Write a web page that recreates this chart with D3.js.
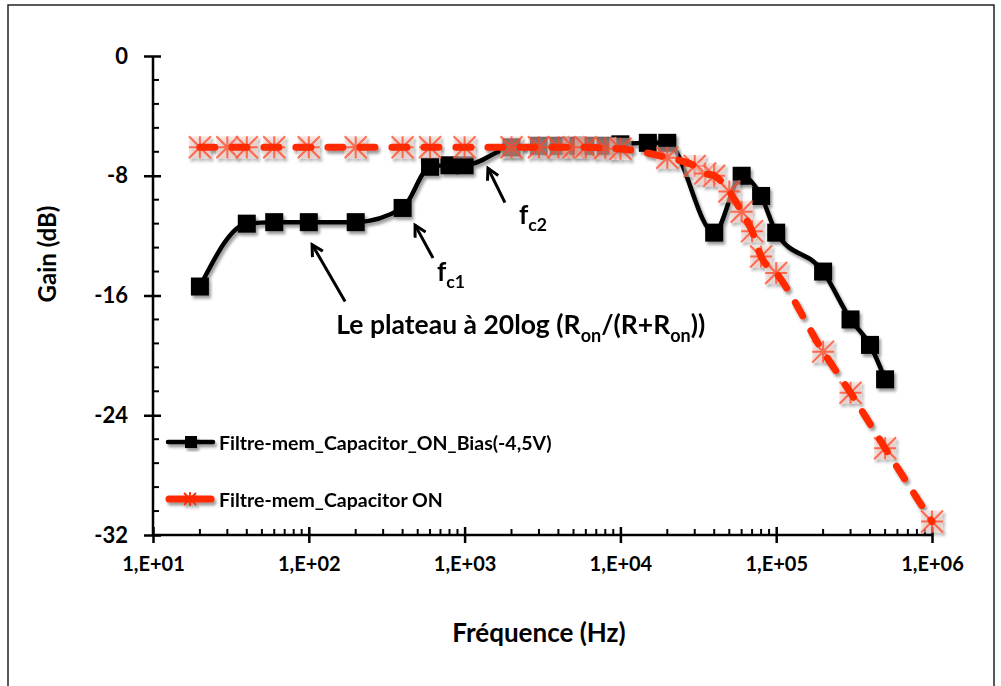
<!DOCTYPE html>
<html>
<head>
<meta charset="utf-8">
<script src="https://cdn.jsdelivr.net/npm/d3@7"></script>
<style>
  body { margin: 0; background: #fff; }
  svg text { font-family: Lato, "Open Sans", sans-serif; font-weight: bold; fill: #000; }
</style>
</head>
<body>
<div id="chart"></div>
<script>
// data
let freqBias = [20, 40, 60, 100, 200, 400, 600, 800, 1000, 2000, 3000, 4000, 5000, 6000, 8000, 10000, 15000, 20000,
    40000, 60000, 80000, 100000, 200000, 300000, 400000, 500000]
let gainBias = [-15.4, -11.2, -11.1, -11.1, -11.1, -10.15, -7.4, -7.3, -7.3, -6.1, -6.0, -6.0, -6.0, -6.0, -6.0, -5.9, -5.8, -5.8,
    -11.8, -8.0, -9.35, -11.8, -14.4, -17.6, -19.3, -21.6]

let freqOn = [20, 30, 40, 60, 100, 200, 400, 600, 1000, 2000, 3000, 4000, 5000, 6000, 8000, 10000,
    20000, 30000, 35000, 40000, 50000, 60000, 70000, 80000, 100000, 200000, 300000, 500000, 1000000]
let gainOn = [-6.1, -6.1, -6.1, -6.1, -6.1, -6.1, -6.1, -6.1, -6.1, -6.1, -6.1, -6.1, -6.1, -6.1, -6.15, -6.2,
    -6.8, -7.35, -7.85, -8.0, -9.05, -10.4, -11.7, -13.4, -14.5, -19.75, -22.5, -26.2, -31.1]

let xTicks = [10, 100, 1000, 10000, 100000, 1000000]
let yTicks = [0, -8, -16, -24, -32]
let seriesNames = ["Filtre-mem_Capacitor_ON_Bias(-4,5V)", "Filtre-mem_Capacitor ON"]

let width = 1001, height = 686
let black = "#000", red = "#ff2a00"

let svg = d3.select("#chart").append("svg")
    .attr("width", width)
    .attr("height", height)

let defs = svg.append("defs")
let shadow = defs.append("filter").attr("id", "shadow")
    .attr("x", "-20%").attr("y", "-20%").attr("width", "150%").attr("height", "150%")
shadow.append("feDropShadow")
    .attr("dx", 2).attr("dy", 3).attr("stdDeviation", 1.8)
    .attr("flood-color", "#000").attr("flood-opacity", 0.4)

defs.append("marker").attr("id", "arrow")
    .attr("markerUnits", "userSpaceOnUse")
    .attr("markerWidth", 20).attr("markerHeight", 20)
    .attr("refX", 12).attr("refY", 7)
    .attr("orient", "auto")
    .append("path")
    .attr("d", "M1,1 L12,7 L1,13")
    .attr("fill", "none").attr("stroke", "#000").attr("stroke-width", 3)

// frame
svg.append("rect")
    .attr("x", 8).attr("y", 5)
    .attr("width", 986).attr("height", 700)
    .attr("fill", "none").attr("stroke", "#222").attr("stroke-width", 1.5)

let x = d3.scaleLog().domain([10, 1e6]).range([153, 932])
let y = d3.scaleLinear().domain([-32, 0]).range([535, 56])

// y axis
let yAxis = svg.append("g")
    .attr("transform", "translate(" + x(10) + ",0)")
    .call(d3.axisLeft(y).tickValues(yTicks).tickSize(8).tickFormat(d => d == 0 ? "0" : d))
yAxis.select(".domain").attr("stroke-width", 2.5).attr("d", "M0," + y(0) + "V" + y(-32))
yAxis.selectAll(".tick line").attr("x1", -9).attr("x2", 8).attr("stroke-width", 2.5)
yAxis.selectAll(".tick text").attr("x", -25).style("font-size", "22px")

let yMinor = d3.range(0, 21).map(i => -1.6 * i).filter(v => Math.abs(v % 8) > 0.01 && Math.abs(v % 8) < 7.99)
yAxis.selectAll(".minor").data(yMinor).join("line")
    .attr("class", "minor")
    .attr("x1", 0).attr("x2", 6)
    .attr("y1", d => y(d)).attr("y2", d => y(d))
    .attr("stroke", "#000").attr("stroke-width", 2)

// x axis
let xAxis = svg.append("g")
    .attr("transform", "translate(0," + y(-32) + ")")
    .call(d3.axisBottom(x).tickValues(xTicks).tickSize(8)
        .tickFormat(d => "1,E+0" + Math.round(Math.log10(d))))
xAxis.select(".domain").attr("stroke-width", 2.5).attr("d", "M" + x(10) + ",0H" + x(1e6))
xAxis.selectAll(".tick line").attr("y1", -8).attr("y2", 8).attr("stroke-width", 2.5)
xAxis.selectAll(".tick text").attr("y", 22).style("font-size", "20px")

let xMinor = []
xTicks.slice(0, -1).forEach(function (d) {
    for (let k = 2; k < 10; k++) xMinor.push(d * k)
})
xAxis.selectAll(".minor").data(xMinor).join("line")
    .attr("class", "minor")
    .attr("x1", d => x(d)).attr("x2", d => x(d))
    .attr("y1", 0).attr("y2", -6)
    .attr("stroke", "#000").attr("stroke-width", 2)

// axis titles
svg.append("text")
    .attr("transform", "translate(56,254) rotate(-90)")
    .attr("text-anchor", "middle")
    .style("font-size", "24px")
    .text("Gain (dB)")

svg.append("text")
    .attr("x", 539).attr("y", 642)
    .attr("text-anchor", "middle")
    .style("font-size", "26px")
    .text("Fréquence (Hz)")

// series
let line = d3.line().x(d => x(d[0])).y(d => y(d[1])).curve(d3.curveMonotoneX)
let biasPts = d3.zip(freqBias, gainBias)
let onPts = d3.zip(freqOn, gainOn)

let gBias = svg.append("g").attr("filter", "url(#shadow)")
gBias.append("path")
    .attr("d", line(biasPts))
    .attr("fill", "none").attr("stroke", black).attr("stroke-width", 4.5)
gBias.selectAll("rect").data(biasPts).join("rect")
    .attr("x", d => x(d[0]) - 9).attr("y", d => y(d[1]) - 9)
    .attr("width", 18).attr("height", 18)
    .attr("fill", black)

function star(g, s) {
    g.append("rect")
        .attr("x", -s).attr("y", -s).attr("width", 2 * s).attr("height", 2 * s)
        .attr("fill", "#f0cfc9").attr("opacity", 0.5)
    g.append("path")
        .attr("d", "M" + -s + "," + -s + "L" + s + "," + s + "M" + -s + "," + s + "L" + s + "," + -s +
            "M0," + -s + "V" + s + "M" + -s + ",0H" + s)
        .attr("stroke", "#ff4a2a").attr("stroke-width", 2).attr("opacity", 0.75)
}

let gOn = svg.append("g").attr("filter", "url(#shadow)")
gOn.selectAll("g").data(onPts).join("g")
    .attr("transform", d => "translate(" + x(d[0]) + "," + y(d[1]) + ")")
    .each(function () { star(d3.select(this), 11) })
gOn.append("path")
    .attr("d", line(onPts))
    .attr("fill", "none").attr("stroke", red).attr("stroke-width", 7)
    .attr("stroke-dasharray", "15,17").attr("stroke-linecap", "round")

// legend
let legend = svg.append("g")
let lb = legend.append("g").attr("filter", "url(#shadow)")
lb.append("line").attr("x1", 168).attr("x2", 213).attr("y1", 442).attr("y2", 442)
    .attr("stroke", black).attr("stroke-width", 4.5).attr("stroke-linecap", "round")
lb.append("rect").attr("x", 185).attr("y", 436).attr("width", 12).attr("height", 12).attr("fill", black)
legend.append("text").attr("x", 219).attr("y", 450).style("font-size", "19.5px").text(seriesNames[0])

let lr = legend.append("g").attr("filter", "url(#shadow)")
lr.append("line").attr("x1", 169).attr("x2", 211).attr("y1", 499).attr("y2", 499)
    .attr("stroke", red).attr("stroke-width", 7).attr("stroke-linecap", "round")
let ls = lr.append("g").attr("transform", "translate(190,499)")
ls.append("path").attr("d", "M-6,-6L6,6M-6,6L6,-6M0,-7V7")
    .attr("stroke", red).attr("stroke-width", 1.8)
legend.append("text").attr("x", 219).attr("y", 507).style("font-size", "19.5px").text(seriesNames[1])

// annotations (positions in data units)
let arrows = [
    {from: [171, -16.4], to: [105, -12.6]},
    {from: [627, -13.5], to: [481, -11.3]},
    {from: [1816, -9.8], to: [1413, -7.5]}
]
svg.selectAll(".arrow").data(arrows).join("line")
    .attr("class", "arrow")
    .attr("x1", d => x(d.from[0])).attr("y1", d => y(d.from[1]))
    .attr("x2", d => x(d.to[0])).attr("y2", d => y(d.to[1]))
    .attr("stroke", "#000").attr("stroke-width", 3)
    .attr("marker-end", "url(#arrow)")

function subText(xv, yv, size, parts) {
    let t = svg.append("text")
        .attr("x", x(xv)).attr("y", y(yv))
        .style("font-size", size + "px")
    parts.forEach(function (p) {
        if (p.sub) {
            t.append("tspan").attr("dy", size * 0.3).style("font-size", (size * 0.68) + "px").text(p.t)
        } else {
            t.append("tspan").attr("dy", p.back ? -size * 0.3 : 0).text(p.t)
        }
    })
}
subText(150, -18.55, 26.5, [{t: "Le plateau à 20log (R"}, {t: "on", sub: true}, {t: "/(R+R", back: true},
    {t: "on", sub: true}, {t: "))", back: true}])
subText(665, -15.0, 26, [{t: "f"}, {t: "c1", sub: true}])
subText(2233, -11.2, 26, [{t: "f"}, {t: "c2", sub: true}])
</script>
</body>
</html>
